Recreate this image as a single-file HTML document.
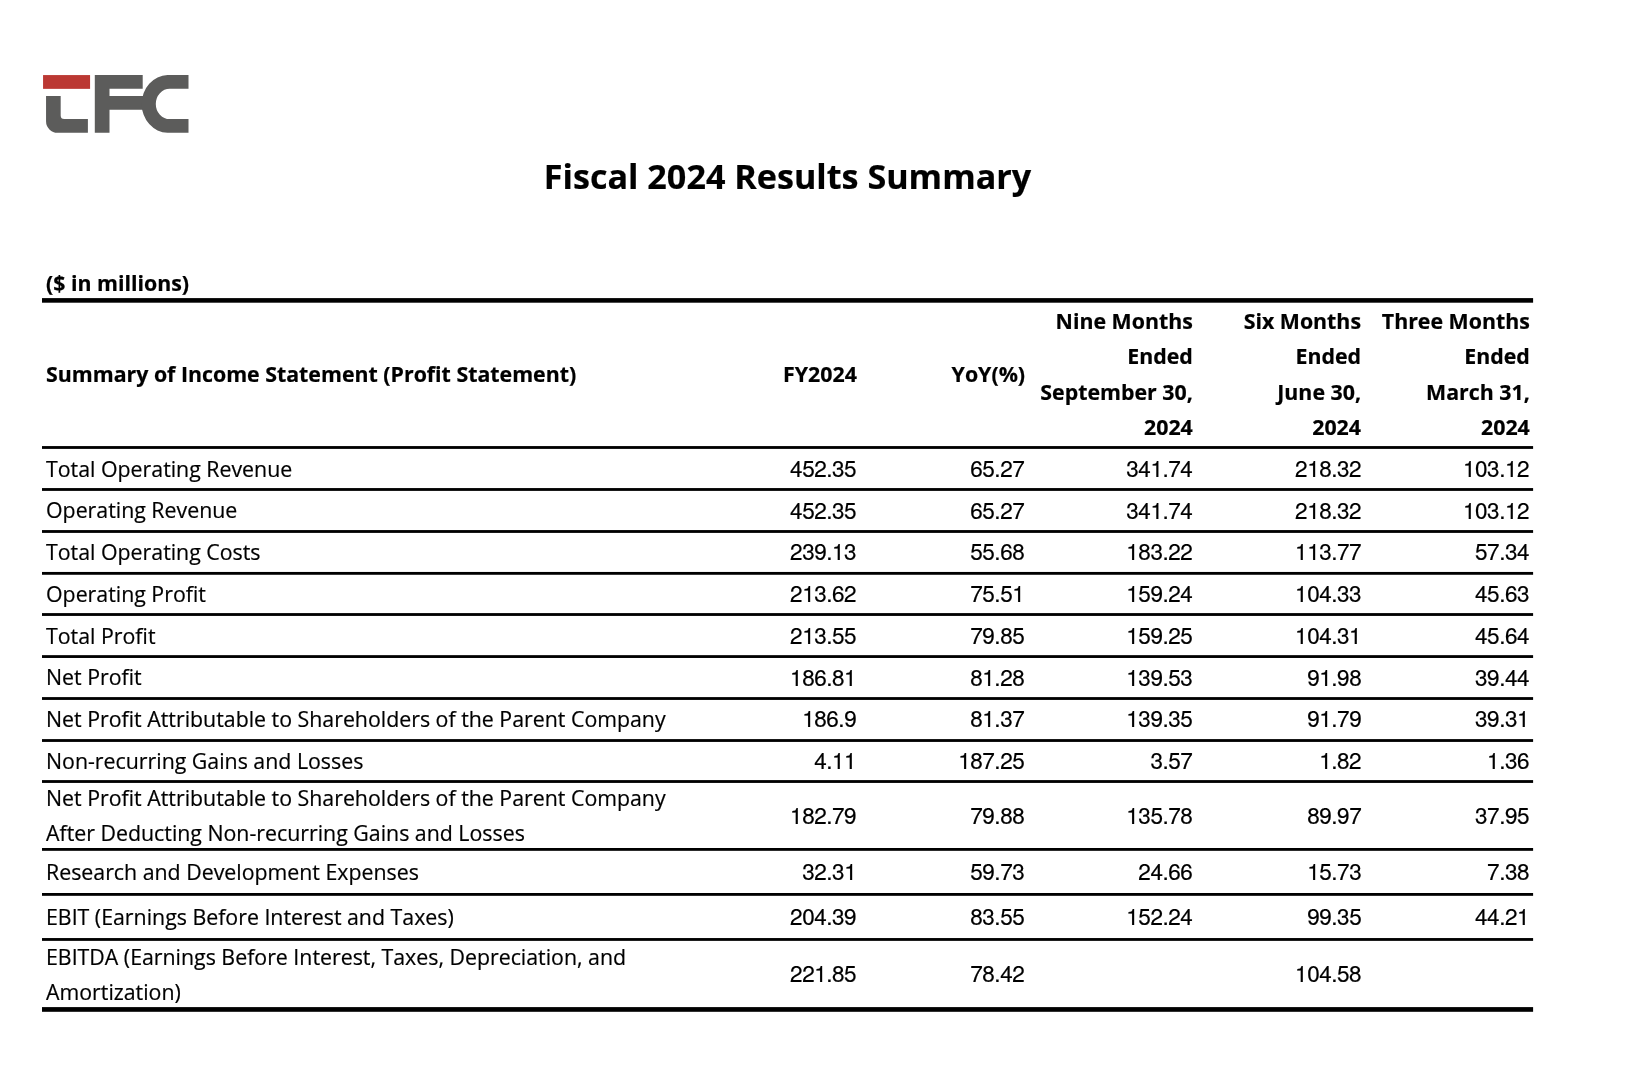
<!DOCTYPE html>
<html lang="en">
<head>
<meta charset="utf-8">
<title>Fiscal 2024 Results Summary</title>
<style>
html,body{margin:0;padding:0;background:#fff;}
body{width:1636px;height:1076px;position:relative;overflow:hidden;color:#000;
  font-family:"Open Sans","Liberation Sans",Arial,sans-serif;font-size:21.333px;}
#wrap{position:absolute;left:0;top:0;width:1636px;height:1076px;will-change:transform;}
.t{position:absolute;white-space:nowrap;line-height:30px;-webkit-text-stroke:0.2px #000;}
.l{left:46.0px;}
.b{font-weight:700;}
.r{text-align:right;width:200px;}
.n{font-family:"TeX Gyre Heros","Liberation Sans",Arial,Helvetica,sans-serif;font-size:22.5px;letter-spacing:-0.45px;}
#title{position:absolute;left:0;width:1575.0px;text-align:center;font-weight:700;font-size:34.13px;line-height:50px;white-space:nowrap;-webkit-text-stroke:0.2px #000;}
</style>
</head>
<body>
<div id="wrap">

<svg style="position:absolute;left:0;top:0" width="1636" height="1076" viewBox="0 0 1636 1076">
<rect x="43.06" y="75.07" width="47.02" height="13.79" fill="#bb3833"/>
<path fill="#5c5c5b" d="M46.05 96 H60.68 V115.6 A3.5 3.5 0 0 0 64.18 119.1 H87.9 V132.76 H57.55 A11.5 11.5 0 0 1 46.05 121.26 Z"/>
<path fill="#5c5c5b" d="M94.8 75.07 H142.7 V88.86 H109.5 V95.9 H150 V109.7 H109.5 V132.76 H94.8 Z"/>
<path fill="#5c5c5b" d="M188.5 75.07 H167.5 A26.3 28.85 0 0 0 167.5 132.76 H188.5 V119.1 H169.8 A14 15.2 0 0 1 169.8 88.7 H188.5 Z"/>
<g fill="#000">
<rect x="42.0" y="298.1" width="1491.1" height="4.6"/>
<rect x="42.0" y="446.08" width="1491.1" height="2.82"/>
<rect x="42.0" y="488.07" width="1491.1" height="2.82"/>
<rect x="42.0" y="530.08" width="1491.1" height="2.82"/>
<rect x="42.0" y="571.95" width="1491.1" height="2.82"/>
<rect x="42.0" y="613.1" width="1491.1" height="2.82"/>
<rect x="42.0" y="655.15" width="1491.1" height="2.82"/>
<rect x="42.0" y="697.1" width="1491.1" height="2.82"/>
<rect x="42.0" y="739.1" width="1491.1" height="2.82"/>
<rect x="42.0" y="780.1" width="1491.1" height="2.82"/>
<rect x="42.0" y="848.0" width="1491.1" height="2.82"/>
<rect x="42.0" y="893.0" width="1491.1" height="2.82"/>
<rect x="42.0" y="938.05" width="1491.1" height="2.82"/>
<rect x="42.0" y="1007.1" width="1491.1" height="4.7"/>
</g></svg>
<div id="title" style="top:151px">Fiscal 2024 Results Summary</div>
<div class="t l b" style="top:268px">($ in millions)</div>
<div class="t l b" style="top:359px">Summary of Income Statement (Profit Statement)</div>
<div class="t b r" style="left:656.9px;top:359px">FY2024</div>
<div class="t b r" style="left:825.1px;top:359px">YoY(%)</div>
<div class="t b r" style="left:992.8px;top:306px">Nine Months</div>
<div class="t b r" style="left:992.8px;top:341px">Ended</div>
<div class="t b r" style="left:992.8px;top:377px">September 30,</div>
<div class="t b r" style="left:992.8px;top:412px">2024</div>
<div class="t b r" style="left:1161.0px;top:306px">Six Months</div>
<div class="t b r" style="left:1161.0px;top:341px">Ended</div>
<div class="t b r" style="left:1161.0px;top:377px">June 30,</div>
<div class="t b r" style="left:1161.0px;top:412px">2024</div>
<div class="t b r" style="left:1329.8px;top:306px">Three Months</div>
<div class="t b r" style="left:1329.8px;top:341px">Ended</div>
<div class="t b r" style="left:1329.8px;top:377px">March 31,</div>
<div class="t b r" style="left:1329.8px;top:412px">2024</div>
<div class="t l" style="top:454px">Total Operating Revenue</div>
<div class="t r n" style="left:656.2px;top:452px">452.35</div>
<div class="t r n" style="left:824.3px;top:452px">65.27</div>
<div class="t r n" style="left:992.4px;top:452px">341.74</div>
<div class="t r n" style="left:1161.2px;top:452px">218.32</div>
<div class="t r n" style="left:1329.1px;top:452px">103.12</div>
<div class="t l" style="top:495px">Operating Revenue</div>
<div class="t r n" style="left:656.2px;top:494px">452.35</div>
<div class="t r n" style="left:824.3px;top:494px">65.27</div>
<div class="t r n" style="left:992.4px;top:494px">341.74</div>
<div class="t r n" style="left:1161.2px;top:494px">218.32</div>
<div class="t r n" style="left:1329.1px;top:494px">103.12</div>
<div class="t l" style="top:537px">Total Operating Costs</div>
<div class="t r n" style="left:656.2px;top:535px">239.13</div>
<div class="t r n" style="left:824.3px;top:535px">55.68</div>
<div class="t r n" style="left:992.4px;top:535px">183.22</div>
<div class="t r n" style="left:1161.2px;top:535px">113.77</div>
<div class="t r n" style="left:1329.1px;top:535px">57.34</div>
<div class="t l" style="top:579px">Operating Profit</div>
<div class="t r n" style="left:656.2px;top:577px">213.62</div>
<div class="t r n" style="left:824.3px;top:577px">75.51</div>
<div class="t r n" style="left:992.4px;top:577px">159.24</div>
<div class="t r n" style="left:1161.2px;top:577px">104.33</div>
<div class="t r n" style="left:1329.1px;top:577px">45.63</div>
<div class="t l" style="top:621px">Total Profit</div>
<div class="t r n" style="left:656.2px;top:619px">213.55</div>
<div class="t r n" style="left:824.3px;top:619px">79.85</div>
<div class="t r n" style="left:992.4px;top:619px">159.25</div>
<div class="t r n" style="left:1161.2px;top:619px">104.31</div>
<div class="t r n" style="left:1329.1px;top:619px">45.64</div>
<div class="t l" style="top:662px">Net Profit</div>
<div class="t r n" style="left:656.2px;top:661px">186.81</div>
<div class="t r n" style="left:824.3px;top:661px">81.28</div>
<div class="t r n" style="left:992.4px;top:661px">139.53</div>
<div class="t r n" style="left:1161.2px;top:661px">91.98</div>
<div class="t r n" style="left:1329.1px;top:661px">39.44</div>
<div class="t l" style="top:704px">Net Profit Attributable to Shareholders of the Parent Company</div>
<div class="t r n" style="left:656.2px;top:702px">186.9</div>
<div class="t r n" style="left:824.3px;top:702px">81.37</div>
<div class="t r n" style="left:992.4px;top:702px">139.35</div>
<div class="t r n" style="left:1161.2px;top:702px">91.79</div>
<div class="t r n" style="left:1329.1px;top:702px">39.31</div>
<div class="t l" style="top:746px">Non-recurring Gains and Losses</div>
<div class="t r n" style="left:656.2px;top:744px">4.11</div>
<div class="t r n" style="left:824.3px;top:744px">187.25</div>
<div class="t r n" style="left:992.4px;top:744px">3.57</div>
<div class="t r n" style="left:1161.2px;top:744px">1.82</div>
<div class="t r n" style="left:1329.1px;top:744px">1.36</div>
<div class="t l" style="top:783px">Net Profit Attributable to Shareholders of the Parent Company</div>
<div class="t l" style="top:818px">After Deducting Non-recurring Gains and Losses</div>
<div class="t r n" style="left:656.2px;top:799px">182.79</div>
<div class="t r n" style="left:824.3px;top:799px">79.88</div>
<div class="t r n" style="left:992.4px;top:799px">135.78</div>
<div class="t r n" style="left:1161.2px;top:799px">89.97</div>
<div class="t r n" style="left:1329.1px;top:799px">37.95</div>
<div class="t l" style="top:857px">Research and Development Expenses</div>
<div class="t r n" style="left:656.2px;top:855px">32.31</div>
<div class="t r n" style="left:824.3px;top:855px">59.73</div>
<div class="t r n" style="left:992.4px;top:855px">24.66</div>
<div class="t r n" style="left:1161.2px;top:855px">15.73</div>
<div class="t r n" style="left:1329.1px;top:855px">7.38</div>
<div class="t l" style="top:902px">EBIT (Earnings Before Interest and Taxes)</div>
<div class="t r n" style="left:656.2px;top:900px">204.39</div>
<div class="t r n" style="left:824.3px;top:900px">83.55</div>
<div class="t r n" style="left:992.4px;top:900px">152.24</div>
<div class="t r n" style="left:1161.2px;top:900px">99.35</div>
<div class="t r n" style="left:1329.1px;top:900px">44.21</div>
<div class="t l" style="top:942px">EBITDA (Earnings Before Interest, Taxes, Depreciation, and</div>
<div class="t l" style="top:977px">Amortization)</div>
<div class="t r n" style="left:656.2px;top:957px">221.85</div>
<div class="t r n" style="left:824.3px;top:957px">78.42</div>
<div class="t r n" style="left:1161.2px;top:957px">104.58</div>
</div>
</body>
</html>
